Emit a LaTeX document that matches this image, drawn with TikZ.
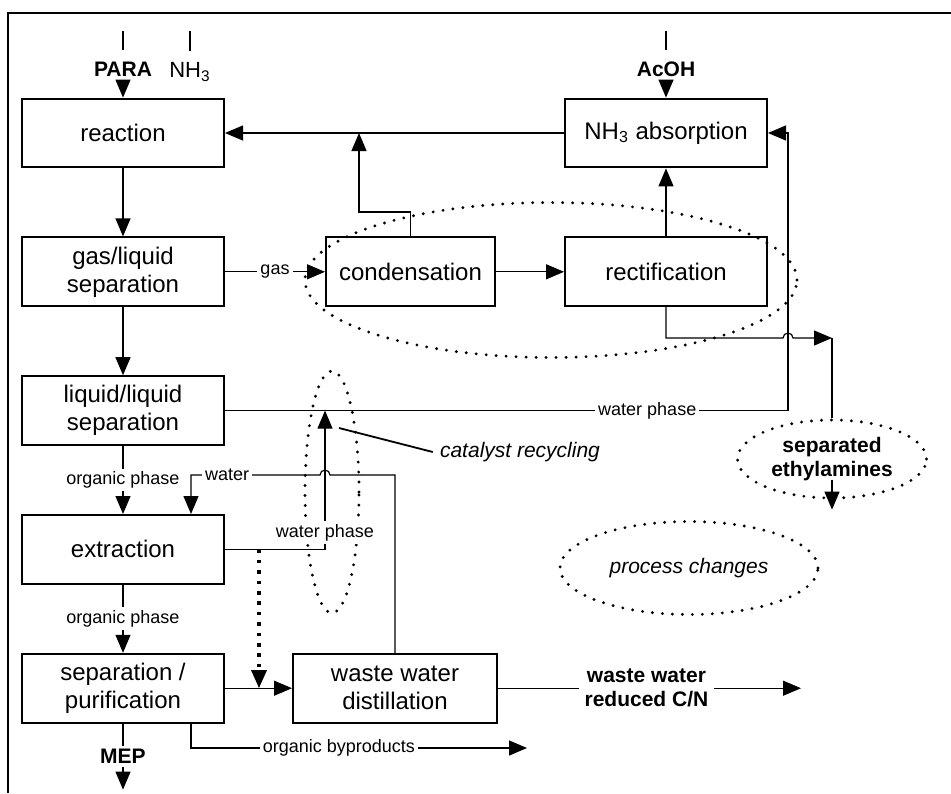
\documentclass[tikz,border=0pt]{standalone}
\usepackage{fontspec}
\setmainfont{Liberation Sans}
\usetikzlibrary{arrows.meta, positioning, shapes.geometric}

\begin{document}
\begin{tikzpicture}[
    x=0.5pt, y=-0.5pt,
    node distance=34pt,
    line width=0.6pt,
    >={Triangle[length=9pt, width=7.5pt]},
    box/.style={draw, line width=1pt, minimum width=101pt, minimum height=34.4pt, align=center, inner sep=1pt, font=\fontsize{12}{14}\selectfont},
    lbl/.style={fill=white, inner sep=1.5pt, font=\fontsize{9}{10}\selectfont},
    feed/.style={inner sep=1.5pt, align=center, font=\bfseries\fontsize{10.5}{12}\selectfont},
    note/.style={font=\itshape\fontsize{10.5}{12}\selectfont},
    grp/.style={ellipse, draw, line width=1.6pt, line cap=round, dash pattern=on 0pt off 5pt, inner sep=0pt},
    dotflow/.style={->, line width=1.6pt, dash pattern=on 1.8pt off 3.4pt},
]
    \useasboundingbox (0,0) rectangle (951,793);
    \draw[line width=1.2pt] (8,793) -- (8,13) -- (951,13);

    % Process units
    \node[box] (reac) at (123,133) {reaction};
    \node[box, below=of reac] (gas) {gas/liquid\\separation};
    \node[box, below=of gas] (liq) {liquid/liquid\\separation};
    \node[box, below=of liq] (ext) {extraction};
    \node[box, below=of ext] (sep) {separation /\\purification};
    \node[box, minimum width=84.5pt, right=50pt of gas] (cond) {condensation};
    \node[box, right=of cond] (rect) {rectification};
    \node[box, above=of rect] (abs) {NH\textsubscript{3} absorption};
    \node[box, minimum width=102pt, right=33.5pt of sep] (wwd) {waste water\\distillation};

    % Feeds
    \node[feed] (para) at (123,69) {PARA};
    \node[inner sep=1.5pt, font=\fontsize{11}{12}\selectfont] (nh3) at (190,72) {NH\textsubscript{3}};
    \node[feed] (acoh) at (abs |- para) {AcOH};

    % Changes
    \node[grp, minimum width=246pt, minimum height=77.5pt] (grpRec) at (551,280) {};
    \node[grp, minimum width=27pt, minimum height=121pt] (grpCat) at (332,492) {};
    \node[grp, note, minimum width=129pt, minimum height=46.5pt] (chg) at (689,568) {process changes};
    \node[grp, feed, minimum width=94.5pt, minimum height=39pt] (eth) at (832,459) {separated\\ethylamines};
    \node[note] (catLbl) at (520,452) {catalyst recycling};

    % Helper points
    \coordinate (paraIn) at (123,31);
    \coordinate (nh3In) at (190,31);
    \coordinate (jR) at (359,212);
    \coordinate (cat) at (325,475);
    \coordinate (wp) at (788,338);
    \coordinate (ethC) at (832,338);
    \coordinate (catTip) at (339,428);
    \coordinate (wIn) at ([xshift=34pt]ext.north);
    \coordinate (obS) at ([xshift=34pt]sep.south);
    \coordinate (obOut) at (527,748);
    \coordinate (mepOut) at ([yshift=-33pt]sep.south);
    \coordinate (wwOut) at ([xshift=151.5pt]wwd.east);

    % Connections
    \draw (paraIn) -- ([yshift=4pt]para.north);
    \draw[->] (para.south) -- (reac.north);
    \draw (nh3In) -- ([yshift=4pt]nh3.north);
    \draw (acoh |- paraIn) -- ([yshift=4pt]acoh.north);
    \draw[->] (acoh.south) -- (abs.north);

    \draw[->] (reac) -- (gas);
    \draw[->] (gas) -- (liq);
    \draw[->] (liq) -- node[lbl]{organic phase} (ext);
    \draw[->] (ext) -- node[lbl]{organic phase} (sep);
    \draw[->] (sep) -- node[lbl, feed]{MEP} (mepOut);

    \draw[->] (gas) -- node[lbl]{gas} (cond);
    \draw[->] (cond) -- (rect);
    \draw[->] (rect) -- (abs);
    \draw[->] (abs) -- (reac);
    \draw[->] (cond.north) |- (jR) -- (jR |- reac.east);

    \draw[->] (rect.south) |- ([xshift=-2.5pt]wp) arc[start angle=180, end angle=0, radius=2.5pt] -- (ethC);
    \draw (ethC) -- (eth.north);
    \draw[->] ([yshift=10pt]eth.south) -- ([yshift=-5pt]eth.south);

    \draw[->] (liq.east) -- node[lbl, pos=0.75]{water phase} (liq.east -| wp) |- (abs.east);
    \draw[->] (ext.east) -- (cat |- ext.east) -- node[lbl, pos=0.12]{water phase} (cat |- liq.east);
    \draw[->] (wwd.north) |- ([xshift=2.5pt]cat) arc[start angle=0, end angle=180, radius=2.5pt] -- node[lbl, pos=0.72]{water} (wIn |- cat) -- (wIn);
    \draw[line width=0.9pt] (catLbl.west) -- (catTip);

    \draw[dotflow] ([xshift=17pt]ext.east) -- ([xshift=17pt]sep.east);
    \draw[->] (sep) -- (wwd);
    \draw[->] (obS) |- node[lbl, pos=0.72]{organic byproducts} (obOut);
    \draw[->] (wwd.east) -- node[lbl, feed, inner sep=3pt, pos=0.49]{waste water\\reduced C/N} (wwOut);
\end{tikzpicture}
\end{document}
